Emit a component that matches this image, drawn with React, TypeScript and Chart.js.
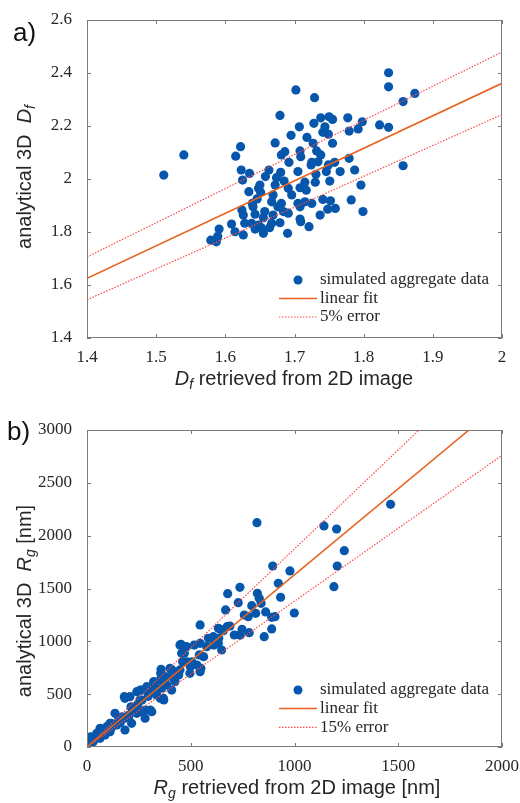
import React, { useEffect, useRef } from 'react';
import { Chart, registerables } from 'chart.js';

Chart.register(...registerables);

// ---------- Panel a data ----------
const dfRetrieved = [
  1.702, 1.679, 1.695, 1.672, 1.622, 1.540, 1.615, 1.681, 1.686, 1.511,
  1.623, 1.635, 1.625, 1.663, 1.658, 1.692, 1.680, 1.674, 1.685, 1.650,
  1.651, 1.634, 1.672, 1.669, 1.667, 1.691, 1.696, 1.681, 1.676, 1.639,
  1.624, 1.640, 1.626, 1.643, 1.657, 1.655, 1.669, 1.684, 1.691, 1.609,
  1.628, 1.638, 1.648, 1.667, 1.679, 1.643, 1.652, 1.664, 1.591, 1.614,
  1.626, 1.655, 1.690, 1.579, 1.587, 1.589, 1.729, 1.836, 1.836, 1.874,
  1.857, 1.738, 1.750, 1.755, 1.777, 1.798, 1.792, 1.779, 1.823, 1.836,
  1.707, 1.728, 1.744, 1.741, 1.749, 1.718, 1.727, 1.755, 1.708, 1.732,
  1.709, 1.738, 1.734, 1.725, 1.724, 1.749, 1.758, 1.779, 1.857, 1.705,
  1.731, 1.746, 1.766, 1.787, 1.715, 1.730, 1.751, 1.796, 1.708, 1.717,
  1.782, 1.741, 1.752, 1.705, 1.715, 1.725, 1.708, 1.748, 1.759, 1.799,
  1.737, 1.708, 1.709, 1.721, 1.648, 1.646,
];
const dfAnalytical = [
  2.336, 2.240, 2.165, 2.136, 2.122, 2.091, 2.086, 2.091, 2.103, 2.015,
  2.034, 2.021, 1.996, 2.034, 2.009, 2.063, 2.025, 2.005, 1.992, 1.977,
  1.950, 1.952, 1.977, 1.940, 1.914, 1.965, 1.940, 1.908, 1.895, 1.908,
  1.883, 1.895, 1.864, 1.867, 1.877, 1.854, 1.864, 1.877, 1.871, 1.830,
  1.833, 1.833, 1.826, 1.833, 1.835, 1.811, 1.816, 1.816, 1.811, 1.801,
  1.789, 1.795, 1.795, 1.769, 1.763, 1.784, 2.307, 2.401, 2.348, 2.323,
  2.292, 2.231, 2.235, 2.225, 2.231, 2.216, 2.189, 2.181, 2.204, 2.195,
  2.197, 2.210, 2.197, 2.176, 2.169, 2.157, 2.135, 2.135, 2.106, 2.106,
  2.084, 2.091, 2.065, 2.063, 2.053, 2.053, 2.063, 2.078, 2.050, 2.028,
  2.018, 2.028, 2.028, 2.034, 1.988, 1.988, 1.992, 1.977, 1.967, 1.958,
  1.921, 1.923, 1.918, 1.908, 1.914, 1.908, 1.895, 1.886, 1.889, 1.877,
  1.864, 1.849, 1.839, 1.820, 1.965, 1.925,
];
// line end points
const fitA = [{ x: 1.4, y: 1.625 }, { x: 2.0, y: 2.361 }];
const errUpperA = [{ x: 1.4, y: 1.706 }, { x: 2.0, y: 2.479 }];
const errLowerA = [{ x: 1.4, y: 1.544 }, { x: 2.0, y: 2.243 }];
const xTicksA = [1.4, 1.5, 1.6, 1.7, 1.8, 1.9, 2.0];
const yTicksA = [1.4, 1.6, 1.8, 2.0, 2.2, 2.4, 2.6];
const legendA = ['simulated aggregate data', 'linear fit', '5% error'];

// ---------- Panel b data ----------
const rgRetrieved = [
  1463, 819, 1142, 1203, 1240, 895, 978, 1206, 1190, 922, 933, 737, 678, 821, 830, 839,
  729, 794, 668, 758, 777, 813, 861, 890, 906, 999, 890, 545, 633, 689, 657, 737,
  782, 854, 609, 545, 577, 633, 649, 585, 517, 480, 456, 448, 461, 505, 541, 549,
  545, 496, 448, 400, 355, 424, 384, 408, 360, 368, 336, 312, 288, 264, 324, 352,
  376, 255, 280, 312, 280, 240, 212, 240, 183, 207, 135, 183, 159, 143, 111, 95,
  63, 47, 87, 18, 6, 30, 63, 111, 183, 215, 255, 180, 453, 469, 482, 357,
  410, 257, 217, 305, 353, 370, 116, 153, 32, 16, 201, 265, 281, 321, 386, 418,
  442, 498, 530, 562, 611, 635, 642, 675, 710, 739, 747, 75, 120, 160, 200, 230,
  130, 170, 245, 295, 330, 100, 60,
];
const rgAnalytical = [
  2297, 2123, 2092, 2063, 1858, 1713, 1666, 1713, 1517, 1549, 1417, 1511, 1451, 1454, 1407, 1360,
  1366, 1337, 1297, 1249, 1233, 1265, 1278, 1227, 1233, 1268, 1117, 1155, 1123, 1145, 1101, 1060,
  1082, 1044, 1044, 981, 949, 981, 918, 1029, 965, 949, 887, 965, 807, 807, 871, 745,
  713, 697, 729, 745, 697, 618, 587, 539, 556, 461, 492, 524, 571, 539, 603, 634,
  665, 445, 350, 334, 272, 319, 381, 524, 461, 476, 319, 272, 256, 208, 224, 192,
  177, 130, 114, 97, 35, 50, 82, 145, 161, 224, 334, 476, 972, 887, 807, 735,
  729, 539, 366, 350, 461, 445, 224, 272, 66, 19, 287, 445, 539, 618, 665, 650,
  681, 760, 776, 855, 965, 1029, 1114, 1139, 1060, 1060, 1114, 140, 190, 230, 300, 340,
  215, 285, 405, 480, 560, 150, 105,
];
const fitB = [{ x: 0, y: 0 }, { x: 1841, y: 3000 }];
const errUpperB = [{ x: 0, y: 0 }, { x: 1600, y: 3000 }];
const errLowerB = [{ x: 0, y: 0 }, { x: 2000, y: 2760 }];
const xTicksB = [0, 500, 1000, 1500, 2000];
const yTicksB = [0, 500, 1000, 1500, 2000, 2500, 3000];
const legendB = ['simulated aggregate data', 'linear fit', '15% error'];

// ---------- styles ----------
const DOT = '#0657ab';
const FIT = '#e8601c';
const ERR = '#ff4a4a';
const BOX = '#7a7a7a';
const TICK_FONT = { family: '"Liberation Serif", "Times New Roman", serif', size: 17 };

const boxPlugin = {
  id: 'matlabBox',
  afterDraw(chart: any) {
    const { ctx, chartArea: a, scales } = chart;
    ctx.save();
    ctx.strokeStyle = BOX;
    ctx.lineWidth = 1;
    ctx.strokeRect(a.left + 0.5, a.top + 0.5, a.right - a.left - 1, a.bottom - a.top - 1);
    const tl = 4;
    ctx.beginPath();
    scales.x.ticks.forEach((t: any) => {
      const px = Math.round(scales.x.getPixelForValue(t.value)) + 0.5;
      ctx.moveTo(px, a.bottom);
      ctx.lineTo(px, a.bottom - tl);
      ctx.moveTo(px, a.top);
      ctx.lineTo(px, a.top + tl);
    });
    scales.y.ticks.forEach((t: any) => {
      const py = Math.round(scales.y.getPixelForValue(t.value)) + 0.5;
      ctx.moveTo(a.left, py);
      ctx.lineTo(a.left + tl, py);
      ctx.moveTo(a.right, py);
      ctx.lineTo(a.right - tl, py);
    });
    ctx.stroke();
    ctx.restore();
  },
};

const legendPlugin = {
  id: 'insideLegend',
  afterDraw(chart: any, _args: any, opts: any) {
    const { ctx, chartArea: a } = chart;
    const labels: string[] = opts.labels;
    const rows: number[] = opts.rows;
    ctx.save();
    ctx.font = '17px "Liberation Serif", "Times New Roman", serif';
    ctx.fillStyle = '#262626';
    ctx.textBaseline = 'middle';
    const textX = a.right - 182;
    let y = a.bottom + rows[0];
    ctx.beginPath();
    ctx.fillStyle = DOT;
    ctx.arc(a.right - 204, y, 4.5, 0, Math.PI * 2);
    ctx.fill();
    ctx.fillStyle = '#262626';
    ctx.fillText(labels[0], textX, y);
    y = a.bottom + rows[1];
    ctx.beginPath();
    ctx.strokeStyle = FIT;
    ctx.lineWidth = 1.5;
    ctx.moveTo(a.right - 223, y);
    ctx.lineTo(a.right - 185, y);
    ctx.stroke();
    ctx.fillText(labels[1], textX, y);
    y = a.bottom + rows[2];
    ctx.beginPath();
    ctx.strokeStyle = ERR;
    ctx.lineWidth = 1.2;
    ctx.setLineDash([1.5, 1.5]);
    ctx.moveTo(a.right - 223, y);
    ctx.lineTo(a.right - 185, y);
    ctx.stroke();
    ctx.setLineDash([]);
    ctx.fillText(labels[2], textX, y);
    ctx.restore();
  },
};

type PanelProps = {
  xs: number[];
  ys: number[];
  fit: { x: number; y: number }[];
  up: { x: number; y: number }[];
  lo: { x: number; y: number }[];
  xTicks: number[];
  yTicks: number[];
  legend: string[];
  legendRows: number[];
  padTop: number;
  xAxisHeight: number;
  height: number;
  fmt: (v: number) => string;
};

function Panel(p: PanelProps) {
  const ref = useRef<HTMLCanvasElement>(null);
  useEffect(() => {
    if (!ref.current) return;
    const pts = p.xs.map((x, i) => ({ x, y: p.ys[i] }));
    const xMin = p.xTicks[0];
    const xMax = p.xTicks[p.xTicks.length - 1];
    const yMin = p.yTicks[0];
    const yMax = p.yTicks[p.yTicks.length - 1];
    const chart = new Chart(ref.current, {
      type: 'scatter',
      data: {
        datasets: [
          {
            label: p.legend[1],
            data: p.fit,
            showLine: true,
            borderColor: FIT,
            borderWidth: 1.6,
            pointRadius: 0,
            order: 1,
          },
          {
            label: p.legend[2],
            data: p.up,
            showLine: true,
            borderColor: ERR,
            borderWidth: 1.2,
            borderDash: [1.5, 1.5],
            pointRadius: 0,
            order: 1,
          },
          {
            label: p.legend[2] + ' ',
            data: p.lo,
            showLine: true,
            borderColor: ERR,
            borderWidth: 1.2,
            borderDash: [1.5, 1.5],
            pointRadius: 0,
            order: 1,
          },
          {
            label: p.legend[0],
            data: pts,
            backgroundColor: DOT,
            borderWidth: 0,
            pointRadius: 4.6,
            order: 2,
          },
        ],
      },
      options: {
        animation: false,
        responsive: false,
        maintainAspectRatio: false,
        layout: { padding: { left: 0, right: 18, top: p.padTop, bottom: 0 } },
        plugins: {
          legend: { display: false },
          tooltip: { enabled: false },
          insideLegend: { labels: p.legend, rows: p.legendRows },
        } as any,
        scales: {
          x: {
            type: 'linear',
            min: xMin,
            max: xMax,
            grid: { display: false },
            border: { display: false },
            afterBuildTicks: (s: any) => {
              s.ticks = p.xTicks.map((v) => ({ value: v }));
            },
            afterFit: (s: any) => {
              s.height = p.xAxisHeight;
            },
            ticks: {
              font: TICK_FONT,
              color: '#262626',
              padding: 1,
              maxRotation: 0,
              autoSkip: false,
              callback: (v: any) => p.fmt(Number(v)),
            },
          },
          y: {
            type: 'linear',
            min: yMin,
            max: yMax,
            grid: { display: false },
            border: { display: false },
            afterBuildTicks: (s: any) => {
              s.ticks = p.yTicks.map((v) => ({ value: v }));
            },
            afterFit: (s: any) => {
              s.width = 87;
            },
            ticks: {
              font: TICK_FONT,
              color: '#262626',
              padding: 7,
              autoSkip: false,
              callback: (v: any) => p.fmt(Number(v)),
            },
          },
        },
      },
      plugins: [boxPlugin, legendPlugin],
    });
    return () => chart.destroy();
  }, []);
  return <canvas ref={ref} width={520} height={p.height} style={{ display: 'block', width: 520, height: p.height }} />;
}

const sans = '"Liberation Sans", Arial, sans-serif';

const fmtA = (v: number) => String(Math.round(v * 10) / 10);
const fmtB = (v: number) => String(Math.round(v));

export default function App() {
  const titleStyle: React.CSSProperties = {
    position: 'absolute',
    fontFamily: sans,
    fontSize: 20,
    color: '#262626',
    whiteSpace: 'nowrap',
    lineHeight: 1,
  };
  const subStyle: React.CSSProperties = { fontSize: 14, verticalAlign: -4 };
  return (
    <div style={{ position: 'absolute', left: 0, top: 0, width: 520, height: 803, background: '#fff' }}>
      <div style={{ position: 'absolute', left: 0, top: 0 }}>
        <Panel
          xs={dfRetrieved}
          ys={dfAnalytical}
          fit={fitA}
          up={errUpperA}
          lo={errLowerA}
          xTicks={xTicksA}
          yTicks={yTicksA}
          legend={legendA}
          legendRows={[-58, -39.5, -21]}
          padTop={20}
          xAxisHeight={62}
          height={400}
          fmt={fmtA}
        />
      </div>
      <div style={{ position: 'absolute', left: 0, top: 400 }}>
        <Panel
          xs={rgRetrieved}
          ys={rgAnalytical}
          fit={fitB}
          up={errUpperB}
          lo={errLowerB}
          xTicks={xTicksB}
          yTicks={yTicksB}
          legend={legendB}
          legendRows={[-57, -38.5, -19.7]}
          padTop={30}
          xAxisHeight={56}
          height={403}
          fmt={fmtB}
        />
      </div>

      <div style={{ position: 'absolute', left: 13, top: 17, fontFamily: sans, fontSize: 26, color: '#111' }}>a)</div>
      <div style={{ position: 'absolute', left: 7, top: 416, fontFamily: sans, fontSize: 26, color: '#111' }}>b)</div>

      <div style={{ ...titleStyle, left: 294, top: 379, transform: 'translate(-50%, -50%)' }}>
        <i>D</i><span style={subStyle}><i>f</i></span> retrieved from 2D image
      </div>
      <div style={{ ...titleStyle, left: 25, top: 177, transform: 'translate(-50%, -50%) rotate(-90deg)' }}>
        analytical 3D&nbsp;&nbsp;<i>D</i><span style={subStyle}><i>f</i></span>
      </div>

      <div style={{ ...titleStyle, left: 297, top: 788, transform: 'translate(-50%, -50%)' }}>
        <i>R</i><span style={subStyle}><i>g</i></span> retrieved from 2D image [nm]
      </div>
      <div style={{ ...titleStyle, left: 25, top: 601, transform: 'translate(-50%, -50%) rotate(-90deg)' }}>
        analytical 3D&nbsp;&nbsp;<i>R</i><span style={subStyle}><i>g</i></span> [nm]
      </div>
    </div>
  );
}
